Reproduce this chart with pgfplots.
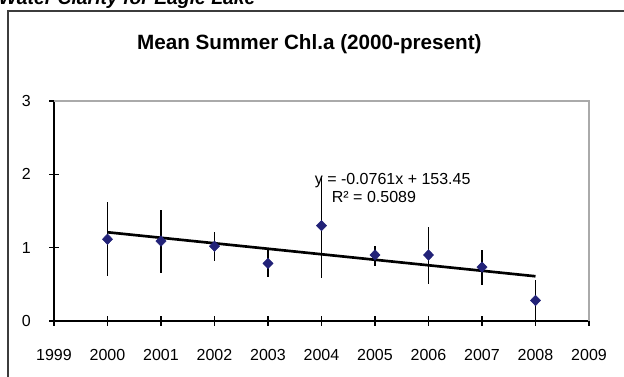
\documentclass[border=0pt]{standalone}
\usepackage{fontspec}
\setmainfont{Liberation Sans}
\usepackage{pgfplots}
\pgfplotsset{compat=1.18}
\usepackage{pgfplotstable}

\definecolor{navy}{RGB}{34,34,120}
\definecolor{framegray}{RGB}{60,60,60}
\definecolor{plotgray}{RGB}{170,170,170}

% year, mean, +err, -err
\pgfplotstableread{
yr   m     ep    em
2000 1.115 0.505 0.495
2001 1.09  0.43  0.43
2002 1.02  0.20  0.20
2003 0.785 0.185 0.185
2004 1.30  0.68  0.72
2005 0.90  0.12  0.15
2006 0.90  0.38  0.39
2007 0.735 0.235 0.245
2008 0.28  0.28  0.28
}\chla

\begin{document}
\begin{tikzpicture}
\useasboundingbox (0,0) rectangle (468pt,282.75pt);
% outer chart frame (continues past the page)
\draw[framegray, line width=1.1pt] (6pt,-20pt) -- (6pt,274.5pt) -- (490pt,274.5pt);
% page heading, cut at the top
\node[anchor=base west, inner sep=0pt, font=\fontsize{14.5}{16}\selectfont\bfseries\itshape]
  at (-1pt,279pt) {Water Clarity for Eagle Lake};
\node[anchor=base, inner sep=0pt, font=\fontsize{15.5}{18}\selectfont\bfseries]
  at (232pt,245.8pt) {Mean Summer Chl.a (2000-present)};

\begin{axis}[
    at={(40.5pt,42pt)}, anchor=south west,
    scale only axis,
    width=401.25pt, height=165pt,
    xmin=1999, xmax=2009,
    ymin=0, ymax=3,
    xtick={1999,2000,...,2009},
    ytick={0,1,2,3},
    xticklabel style={/pgf/number format/1000 sep={}, anchor=center, yshift=-22pt},
    yticklabel style={anchor=center, xshift=-17pt},
    /pgf/number format/assume math mode=true,
    tick label style={font=\fontsize{12}{14}\selectfont},
    axis lines=left,
    axis line style={-, black, line width=0.9pt},
    tick style={black, line width=0.9pt},
    tick align=center,
    major tick length=7.5pt,
    clip=false,
]
\draw[plotgray, line width=0.8pt] (rel axis cs:0,1) -- (rel axis cs:1,1) -- (rel axis cs:1,0);

\addplot[draw=none, mark=diamond*, mark size=3.9pt, mark options={fill=navy, draw=navy, xscale=1.3},
    error bars/.cd, y dir=both, y explicit, error mark=none,
    error bar style={black, line width=1pt}]
  table[x=yr, y=m, y error plus=ep, y error minus=em] {\chla};

% linear trend as drawn in the chart
\addplot[black, line width=2pt] coordinates {(2000,1.21) (2008,0.61)};

\node[font=\fontsize{12}{14}\selectfont] at (axis cs:2005.33,1.92) {y = -0.0761x + 153.45};
\node[font=\fontsize{12}{14}\selectfont] at (axis cs:2004.98,1.69) {R² = 0.5089};
\end{axis}
\end{tikzpicture}
\end{document}
